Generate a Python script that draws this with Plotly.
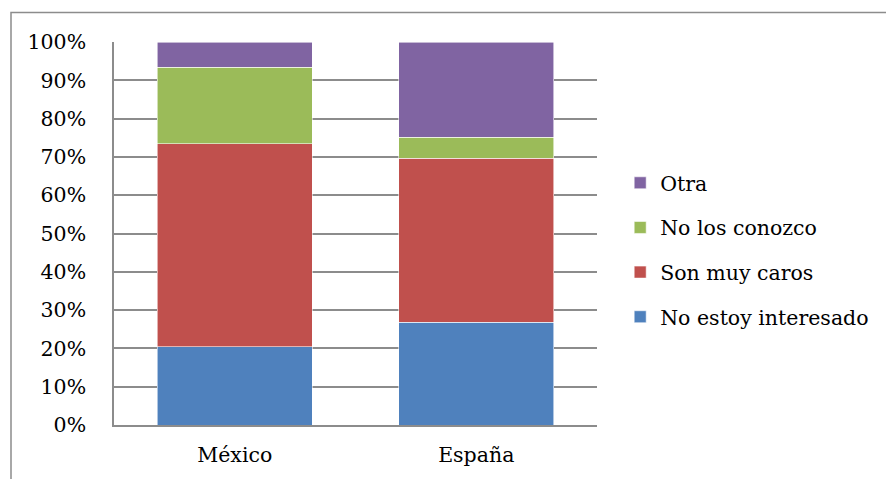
import plotly.graph_objects as go

# Survey answers by country (share of respondents, stacked to 100%)
countries = ["México", "España"]
no_interesado = [0.204, 0.268]
muy_caros = [0.530, 0.428]
no_conozco = [0.200, 0.055]
otra = [0.066, 0.249]

series = [
    ("No estoy interesado", no_interesado, "#4F81BD"),
    ("Son muy caros", muy_caros, "#C0504D"),
    ("No los conozco", no_conozco, "#9BBB59"),
    ("Otra", otra, "#8064A2"),
]

FONT = "DejaVu Serif"
FSIZE = 20.5
GRID = "#8C8C8C"

fig = go.Figure()
for i, (name, vals, color) in enumerate(series):
    fig.add_trace(go.Bar(
        x=countries, y=vals, name=name, legendgroup=str(i),
        legendrank=len(series) - i,
        marker=dict(color=color, line=dict(color="rgba(255,255,255,0.7)", width=0.8)),
        hoverinfo="x+y+name",
    ))

fig.update_layout(
    width=886, height=479,
    margin=dict(l=114, r=289, t=42, b=54, autoexpand=False),
    barmode="stack", bargap=0.358,
    plot_bgcolor="white", paper_bgcolor="white",
    font=dict(family=FONT, size=FSIZE, color="#000000"),
    legend=dict(
        x=1.048, y=0.457, xanchor="left", yanchor="middle",
        traceorder="grouped", tracegroupgap=15,
        font=dict(family=FONT, size=FSIZE, color="#000000"),
        itemwidth=30, bgcolor="rgba(0,0,0,0)",
    ),
    showlegend=True,
)

fig.update_yaxes(
    range=[0, 1.0001], dtick=0.1, tickformat=".0%",
    showgrid=True, gridcolor=GRID, gridwidth=1.5,
    showline=True, linecolor=GRID, linewidth=1.5,
    zeroline=False, ticks="", ticklabelstandoff=22,
    tickfont=dict(family=FONT, size=FSIZE, color="#000000"),
    fixedrange=True,
)
fig.update_xaxes(
    showgrid=False, showline=True, linecolor=GRID, linewidth=1.5,
    ticks="", ticklabelstandoff=11,
    tickfont=dict(family=FONT, size=FSIZE, color="#000000"),
    fixedrange=True,
)

# Outer chart frame (top and left edges visible)
fig.add_shape(
    type="rect", xref="paper", yref="paper",
    x0=(11 - 114) / 483, x1=(900 - 114) / 483,
    y0=(425 - 490) / 383, y1=(425 - 12.5) / 383,
    line=dict(color="#8C8C8C", width=1.5), fillcolor="rgba(0,0,0,0)",
    layer="below",
)

fig.write_html("out.html")
